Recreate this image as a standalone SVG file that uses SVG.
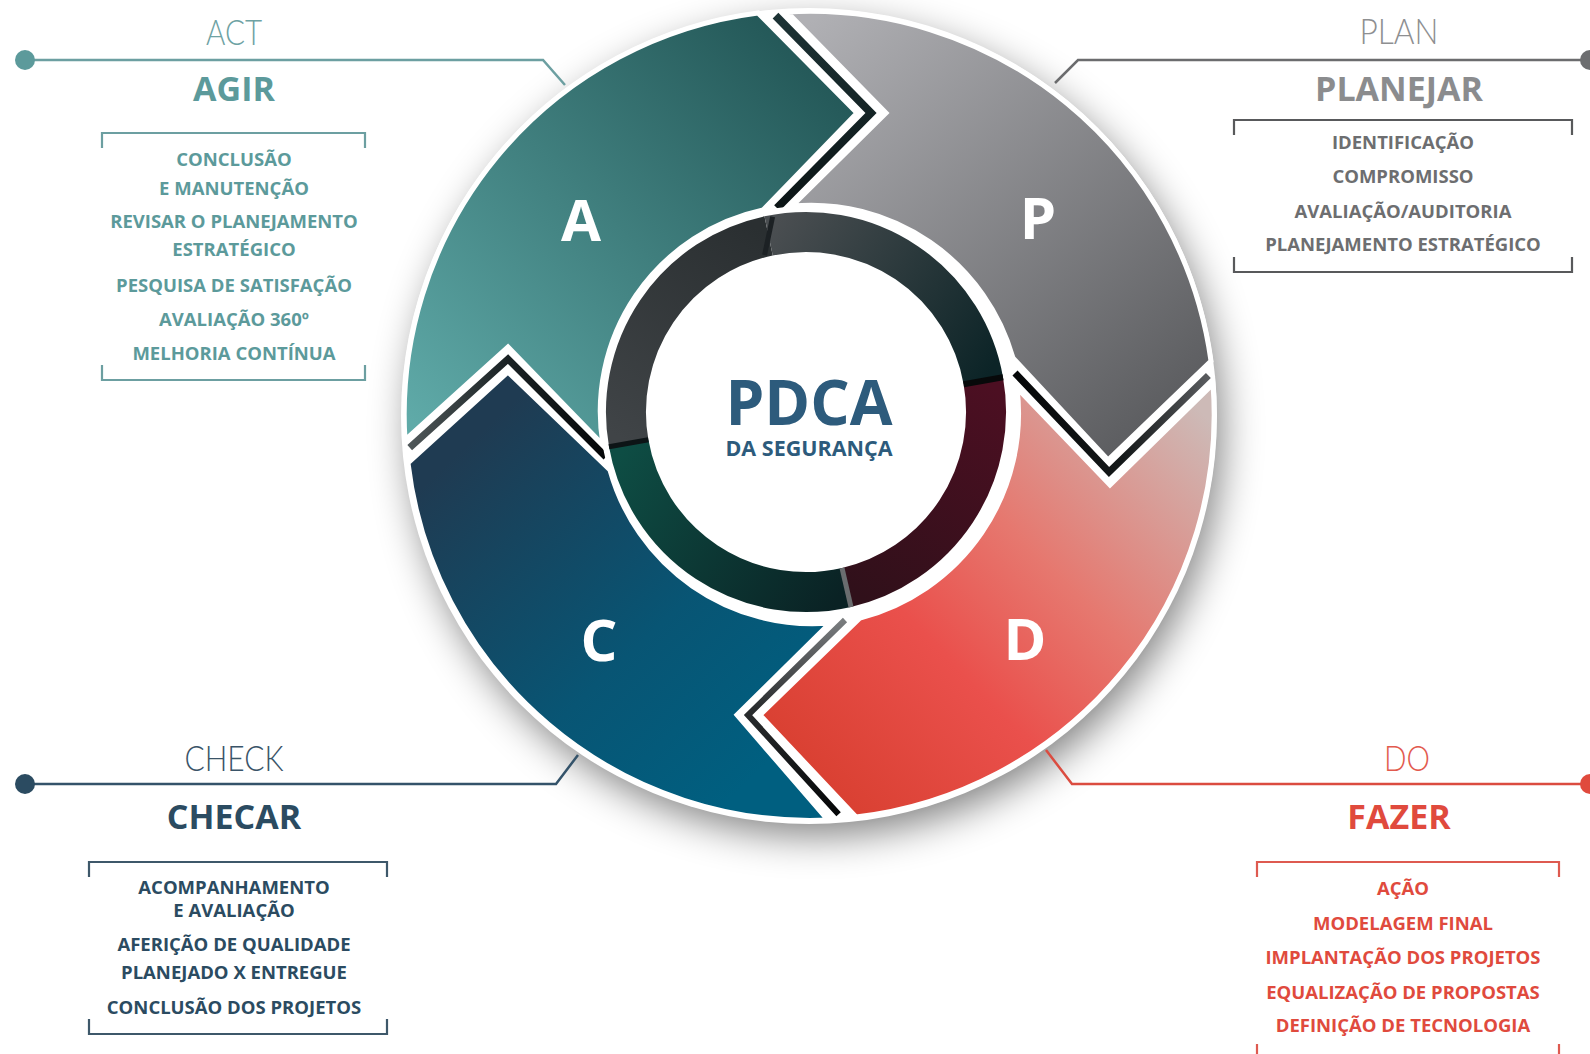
<svg xmlns="http://www.w3.org/2000/svg" width="1590" height="1054" viewBox="0 0 1590 1054">
<defs>
<style>
.seg{stroke:#fff;stroke-width:5;stroke-linejoin:miter}
.band{fill:none;stroke-linejoin:miter;stroke-miterlimit:10}
.letter{font-family:"Open Sans","Noto Sans","DejaVu Sans",sans-serif;font-weight:700;font-size:58px;fill:#fff;text-anchor:middle}
.ring{fill:none;stroke-width:40}
.lab{font-family:"Lato","Open Sans",sans-serif;font-weight:300;font-size:35px;text-anchor:middle}
.head{font-family:"Open Sans","Noto Sans",sans-serif;font-weight:700;font-size:34px;text-anchor:middle}
.item{font-family:"Open Sans","Noto Sans",sans-serif;font-weight:700;font-size:18.5px;text-anchor:middle}
.brk{fill:none;stroke-width:2.2}
.conn{fill:none;stroke-width:2.5}
.act{fill:#5c9a9b}.actl{stroke:#6c9fa1}
.plan{fill:#6d6e70}.planl{stroke:#6b6c6e}
.chk{fill:#2b4b61}.chkl{stroke:#34536a}
.do{fill:#e04a3d}.dol{stroke:#db4c40}
</style>
<filter id="sh" x="-20%" y="-20%" width="140%" height="140%"><feGaussianBlur stdDeviation="20"/></filter>
<linearGradient id="gA" gradientUnits="userSpaceOnUse" x1="420" y1="430" x2="800" y2="40"><stop offset="0" stop-color="#5faaa8"/><stop offset="1" stop-color="#235757"/></linearGradient>
<linearGradient id="gP" gradientUnits="userSpaceOnUse" x1="800" y1="30" x2="1150" y2="430"><stop offset="0" stop-color="#b0b0b4"/><stop offset="1" stop-color="#5c5d60"/></linearGradient>
<linearGradient id="gD" gradientUnits="userSpaceOnUse" x1="1200" y1="410" x2="810" y2="790"><stop offset="0" stop-color="#cdbab7"/><stop offset="0.4" stop-color="#e6786f"/><stop offset="0.65" stop-color="#ea504c"/><stop offset="1" stop-color="#d83f30"/></linearGradient>
<linearGradient id="gC" gradientUnits="userSpaceOnUse" x1="440" y1="470" x2="740" y2="790"><stop offset="0" stop-color="#1f3b52"/><stop offset="0.6" stop-color="#085574"/><stop offset="1" stop-color="#005f80"/></linearGradient>
<linearGradient id="r1" gradientUnits="userSpaceOnUse" x1="628" y1="443" x2="768" y2="236"><stop offset="0" stop-color="#404447"/><stop offset="1" stop-color="#2a2f31"/></linearGradient>
<linearGradient id="r2" gradientUnits="userSpaceOnUse" x1="768" y1="236" x2="983" y2="381"><stop offset="0" stop-color="#4a4e51"/><stop offset="1" stop-color="#0c2427"/></linearGradient>
<linearGradient id="r3" gradientUnits="userSpaceOnUse" x1="983" y1="381" x2="846" y2="587"><stop offset="0" stop-color="#4c0f22"/><stop offset="1" stop-color="#30101a"/></linearGradient>
<linearGradient id="r4" gradientUnits="userSpaceOnUse" x1="846" y1="587" x2="628" y2="443"><stop offset="0" stop-color="#0a2224"/><stop offset="1" stop-color="#0e4d44"/></linearGradient>
<linearGradient id="bT" gradientUnits="userSpaceOnUse" x1="0" y1="15" x2="0" y2="208"><stop offset="0" stop-color="#1d3335"/><stop offset="1" stop-color="#0c1516"/></linearGradient>
<linearGradient id="bR" gradientUnits="userSpaceOnUse" x1="1015" y1="0" x2="1210" y2="0"><stop offset="0" stop-color="#050708"/><stop offset="0.55" stop-color="#141819"/><stop offset="1" stop-color="#5b5d60"/></linearGradient>
<linearGradient id="bB" gradientUnits="userSpaceOnUse" x1="0" y1="620" x2="0" y2="815"><stop offset="0" stop-color="#7a7d7f"/><stop offset="0.45" stop-color="#2a2d2f"/><stop offset="1" stop-color="#050607"/></linearGradient>
<linearGradient id="bL" gradientUnits="userSpaceOnUse" x1="410" y1="0" x2="606" y2="0"><stop offset="0" stop-color="#4f5759"/><stop offset="0.5" stop-color="#1a2224"/><stop offset="1" stop-color="#050708"/></linearGradient>
</defs>
<rect width="1590" height="1054" fill="#fff"/>

<g id="wheel">
<circle cx="816" cy="430" r="405" fill="#000" opacity="0.5" filter="url(#sh)"/>
<circle cx="809" cy="416" r="408" fill="#fff"/>
<g id="bands">
<polyline class="band" stroke="url(#bT)" stroke-width="8" points="775.5,15.6 871,113 777,208"/>
<polyline class="band" stroke="url(#bR)" stroke-width="7" points="1015,373 1109,472 1208.4,375.5"/>
<polyline class="band" stroke="url(#bB)" stroke-width="6" points="845,620 748,715 838.6,814.3"/>
<polyline class="band" stroke="url(#bL)" stroke-width="7" points="606,457 508,359 409.7,447.6"/>
</g>
<g id="node-A">
<path class="seg" fill="url(#gA)" d="M405,440 L508,347 L603,445 A206 206 0 0 1 763,210 L857,113 L758,13 A405 405 0 0 0 405,440 Z"/>
<text class="letter" x="581" y="241">A</text>
</g>
<g id="node-P">
<path class="seg" fill="url(#gP)" d="M787,12 L886,113 L792,206 A210 210 0 0 1 1013,358 L1108,460 L1211,361 A405 405 0 0 0 787,12 Z"/>
<text class="letter" x="1038" y="239">P</text>
</g>
<g id="node-D">
<path class="seg" fill="url(#gD)" d="M1213,384 L1110,485 L1017,388 A211 211 0 0 1 860,618 L760,715 L856,817 A405 405 0 0 0 1213,384 Z"/>
<text class="letter" x="1025" y="660">D</text>
</g>
<g id="node-C">
<path class="seg" fill="url(#gC)" d="M828,820 L737,715 L830,623 A210 210 0 0 1 610,470 L508,372 L408,463 A405 405 0 0 0 828,820 Z"/>
<text class="letter" x="599" y="661">C</text>
</g>
<g id="center">
<circle cx="806" cy="412" r="206" fill="#fff"/>
<path class="ring" stroke="url(#r1)" d="M628.7,443.3 A180 180 0 0 1 768.6,235.9"/>
<path class="ring" stroke="url(#r2)" d="M768.6,235.9 A180 180 0 0 1 983.3,380.7"/>
<path class="ring" stroke="url(#r3)" d="M983.3,380.7 A180 180 0 0 1 846.5,587.4"/>
<path class="ring" stroke="url(#r4)" d="M846.5,587.4 A180 180 0 0 1 628.7,443.3"/>
<line x1="764.6" y1="254.9" x2="772.6" y2="216.8" stroke="#1c2124" stroke-width="5"/>
<line x1="963.6" y1="384.2" x2="1003" y2="377.2" stroke="#07090a" stroke-width="6"/>
<line x1="842" y1="568" x2="851" y2="607" stroke="#6a6d6f" stroke-width="5"/>
<line x1="648.4" y1="439.8" x2="609" y2="446.8" stroke="#0d1416" stroke-width="5"/>
<text x="809" y="425" font-family="Open Sans, Noto Sans, sans-serif" font-weight="700" font-size="62" fill="#2d5b7c" text-anchor="middle">PDCA</text>
<text x="809" y="456" font-family="Open Sans, Noto Sans, sans-serif" font-weight="700" font-size="21.5" fill="#2d5b7c" text-anchor="middle">DA SEGURANÇA</text>
</g>
</g>

<g id="connectors">
<polyline class="conn actl" points="25,60 543,60 565,85"/>
<circle cx="25" cy="60" r="10" class="act"/>
<polyline class="conn planl" points="1055,83 1078,60 1590,60"/>
<circle cx="1590" cy="60" r="10" class="plan"/>
<polyline class="conn chkl" points="25,784 556,784 578,755"/>
<circle cx="25" cy="784" r="10" class="chk"/>
<polyline class="conn dol" points="1046,750 1072,784 1590,784"/>
<circle cx="1590" cy="784" r="10" class="do"/>
</g>

<g id="label-act">
<text class="lab" x="234" y="45" fill="#6ea2a3" textLength="56" lengthAdjust="spacingAndGlyphs">ACT</text>
<text class="head act" x="234" y="101">AGIR</text>
<path class="brk actl" d="M102,148 V133 H365 V148 M102,365 V380 H365 V365"/>
<text class="item act" x="234" y="166">CONCLUSÃO</text>
<text class="item act" x="234" y="195">E MANUTENÇÃO</text>
<text class="item act" x="234" y="228">REVISAR O PLANEJAMENTO</text>
<text class="item act" x="234" y="256">ESTRATÉGICO</text>
<text class="item act" x="234" y="292">PESQUISA DE SATISFAÇÃO</text>
<text class="item act" x="234" y="326">AVALIAÇÃO 360º</text>
<text class="item act" x="234" y="360">MELHORIA CONTÍNUA</text>
</g>

<g id="label-plan">
<text class="lab" x="1399" y="44" fill="#8e8f91" textLength="79" lengthAdjust="spacingAndGlyphs">PLAN</text>
<text class="head" x="1399" y="101" fill="#8b8c8e">PLANEJAR</text>
<path class="brk" stroke="#58595b" d="M1234,135 V120 H1572 V135 M1234,257 V272 H1572 V257"/>
<text class="item plan" x="1403" y="149">IDENTIFICAÇÃO</text>
<text class="item plan" x="1403" y="183">COMPROMISSO</text>
<text class="item plan" x="1403" y="218">AVALIAÇÃO/AUDITORIA</text>
<text class="item plan" x="1403" y="251">PLANEJAMENTO ESTRATÉGICO</text>
</g>

<g id="label-check">
<text class="lab" x="234" y="771" fill="#3a5468" textLength="99" lengthAdjust="spacingAndGlyphs">CHECK</text>
<text class="head chk" x="234" y="829">CHECAR</text>
<path class="brk" stroke="#3e586a" d="M89,877 V862 H387 V877 M89,1019 V1034 H387 V1019"/>
<text class="item chk" x="234" y="894">ACOMPANHAMENTO</text>
<text class="item chk" x="234" y="917">E AVALIAÇÃO</text>
<text class="item chk" x="234" y="951">AFERIÇÃO DE QUALIDADE</text>
<text class="item chk" x="234" y="979">PLANEJADO X ENTREGUE</text>
<text class="item chk" x="234" y="1014">CONCLUSÃO DOS PROJETOS</text>
</g>

<g id="label-do">
<text class="lab" x="1407" y="771" fill="#e25a4e" textLength="46" lengthAdjust="spacingAndGlyphs">DO</text>
<text class="head do" x="1399" y="829">FAZER</text>
<path class="brk" stroke="#de5a50" d="M1257,877 V862 H1559 V877 M1257,1044 V1060 H1559 V1044"/>
<text class="item do" x="1403" y="895">AÇÃO</text>
<text class="item do" x="1403" y="930">MODELAGEM FINAL</text>
<text class="item do" x="1403" y="964">IMPLANTAÇÃO DOS PROJETOS</text>
<text class="item do" x="1403" y="999">EQUALIZAÇÃO DE PROPOSTAS</text>
<text class="item do" x="1403" y="1032">DEFINIÇÃO DE TECNOLOGIA</text>
</g>
</svg>
